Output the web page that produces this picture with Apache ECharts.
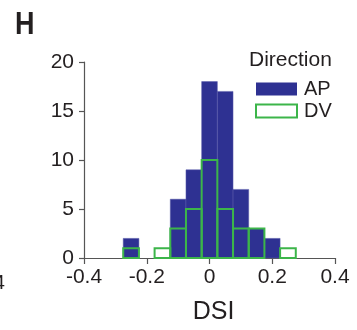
<!DOCTYPE html>
<html>
<head>
<meta charset="utf-8">
<script src="https://cdn.jsdelivr.net/npm/echarts@6/dist/echarts.min.js"></script>
<style>html,body{margin:0;padding:0;background:#fff;}#c{width:357px;height:330px;}</style>
</head>
<body>
<div id="c"></div>
<script>
var binCenters = [-0.25, -0.2, -0.15, -0.1, -0.05, 0, 0.05, 0.1, 0.15, 0.2, 0.25];
var binWidth = 0.05;
var apCounts = [2, 0, 0, 6, 9, 18, 17, 7, 3, 2, 0];
var dvCounts = [1, 0, 1, 3, 5, 10, 5, 3, 3, 0, 1];
var xTicks = [-0.4, -0.2, 0, 0.2, 0.4];
var yTicks = [0, 5, 10, 15, 20];

var BLUE = '#2e3192', GREEN = '#3cb54a', TXT = '#231f20';
var FONT = '"Liberation Sans", Arial, Helvetica, sans-serif';

function toData(counts){ return binCenters.map(function(c,i){ return [c, counts[i]]; }); }

function makeRender(fill, stroke, lw){
  return function(params, api){
    var c = api.value(0), v = api.value(1);
    if (!v) return null;
    var p0 = api.coord([c - binWidth/2, v]);
    var p1 = api.coord([c + binWidth/2, 0]);
    return {
      type: 'rect',
      shape: {x: p0[0], y: p0[1], width: p1[0]-p0[0], height: p1[1]-p0[1]},
      style: {fill: fill, stroke: stroke, lineWidth: lw}
    };
  };
}

var chart = echarts.init(document.getElementById('c'), null, {renderer: 'canvas'});
chart.setOption({
  animation: false,
  textStyle: {fontFamily: FONT},
  grid: {left: 84, right: 22, top: 62, bottom: 68},
  xAxis: {
    type: 'value', min: -0.4, max: 0.4, interval: 0.2,
    name: 'DSI', nameLocation: 'middle', nameGap: 42,
    nameTextStyle: {fontSize: 25, color: TXT, fontFamily: FONT, padding: [0,0,0,8]},
    axisLine: {show: true, onZero: false, lineStyle: {color: '#555', width: 1.2}},
    axisTick: {show: true, length: 6, lineStyle: {color: '#555', width: 1.2}},
    axisLabel: {fontSize: 21, color: TXT, margin: 9, fontFamily: FONT,
      formatter: function(v){ var t = xTicks.find(function(x){return Math.abs(x-v)<1e-9;}); return t === undefined ? '' : String(t); }},
    splitLine: {show: false}
  },
  yAxis: {
    type: 'value', min: 0, max: 20, interval: 5,
    axisLine: {show: true, onZero: false, lineStyle: {color: '#555', width: 1.2}},
    axisTick: {show: true, length: 5, lineStyle: {color: '#555', width: 1.2}},
    axisLabel: {fontSize: 21, color: TXT, margin: 10, fontFamily: FONT,
      formatter: function(v){ return yTicks.indexOf(v) >= 0 ? String(v) : ''; }},
    splitLine: {show: false}
  },
  legend: {
    orient: 'vertical', left: 255, top: 79, padding: 0, itemWidth: 41, itemHeight: 13, itemGap: 2,
    icon: 'rect', textStyle: {fontSize: 20, color: TXT, fontFamily: FONT, padding: [0,0,0,2]},
    data: [
      {name: 'AP', itemStyle: {color: BLUE}},
      {name: 'DV', itemStyle: {color: '#fff', borderColor: GREEN, borderWidth: 2}}
    ]
  },
  graphic: [
    {type: 'text', left: 15, top: 10, scaleY: 1.15, style: {text: 'H', fontSize: 27, fontWeight: 'bold', fill: TXT, fontFamily: FONT}},
    {type: 'text', left: 249, top: 50, style: {text: 'Direction', fontSize: 21, fill: TXT, fontFamily: FONT}},
    {type: 'text', right: 352, top: 273, style: {text: '0.4', fontSize: 21, fill: TXT, fontFamily: FONT, textAlign: 'right'}}
  ],
  series: [
    {name: 'AP', type: 'custom', data: toData(apCounts), renderItem: makeRender(BLUE, '#5a5caa', 0.5), itemStyle: {color: BLUE}, z: 2},
    {name: 'DV', type: 'custom', data: toData(dvCounts), renderItem: makeRender('rgba(255,255,255,0)', GREEN, 2), itemStyle: {color: '#fff', borderColor: GREEN, borderWidth: 2}, z: 3}
  ]
});
</script>
</body>
</html>
